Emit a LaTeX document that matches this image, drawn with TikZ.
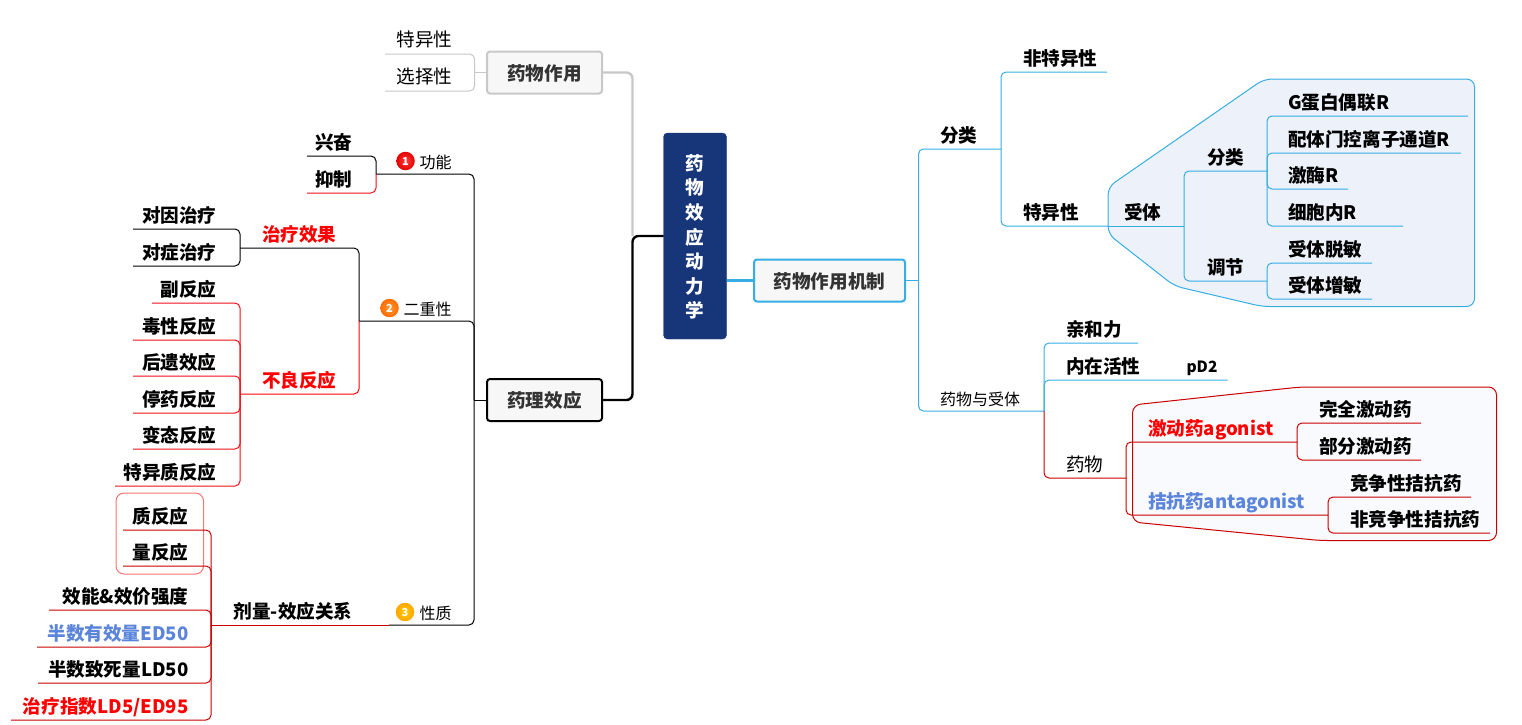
\documentclass[tikz,border=0pt]{standalone}
\usepackage{fontspec}
\setmainfont{Noto Sans CJK SC}
\definecolor{bl}{HTML}{36AEE4}
\definecolor{dr}{HTML}{C80000}
\definecolor{rd}{HTML}{F0101A}
\definecolor{tr}{HTML}{FF0000}
\definecolor{tb}{HTML}{5B85DB}
\definecolor{gy}{HTML}{C8C8C8}
\definecolor{navy}{HTML}{17367A}
\definecolor{tdk}{HTML}{333333}
\newcommand{\LT}[7]{% name, xl, xr, yline, text start, style, text
  \pgfmathsetlengthmacro\wdA{#3-#2}\pgfmathsetlengthmacro\padA{#5-#2}%
  \node[lab,#6,anchor=south west] (#1) at (#2,#4) {\makebox[\wdA][l]{\hspace{\padA}#7}};}
\newcommand{\RT}[7]{% name, xl, xr, yline, text end, style, text
  \pgfmathsetlengthmacro\wdA{#3-#2}\pgfmathsetlengthmacro\padA{#3-#5-0.5}%
  \node[lab,#6,anchor=south west] (#1) at (#2,#4) {\makebox[\wdA][r]{#7\hspace{\padA}}};}
\newcommand{\CL}[3]{\draw[cn,#1] (#2.south west) -- (#3.south east) -- (#3.south west);}
\newcommand{\CR}[3]{\draw[cn,#1] (#2.south east) -- (#3.south west) -- (#3.south east);}
\tikzset{
  lab/.style={inner xsep=0pt,inner ysep=2pt,outer sep=0pt,text height=14pt,text depth=4.5pt,
    font=\fontsize{18.6}{22}\selectfont\bfseries,text=black},
  small/.style={font=\fontsize{16}{20}\selectfont,text depth=4pt},
  plain/.style={font=\fontsize{18.6}{22}\selectfont},
  plainup/.style={plain,text depth=5.5pt},
  cn/.style={line width=1pt,rounded corners=5pt},
  main/.style={draw,line width=2pt,fill=black!3,rounded corners=3pt,inner sep=0pt,outer sep=0pt,
    minimum height=42pt,font=\fontsize{18.6}{22}\selectfont\bfseries,text=tdk,text height=18pt,text depth=3pt},
  thick conn/.style={line width=2.4pt,rounded corners=6pt},
  icon/.style={circle,minimum size=18.5pt,inner sep=0pt,text=white,font=\fontsize{11}{11}\selectfont\bfseries},
  bound/.style={line width=1pt,rounded corners=8pt}
}
\begin{document}
\begin{tikzpicture}[x=1pt,y=-1pt]
\useasboundingbox (0,0) rectangle (1522,724);
\fill[white] (0,0) rectangle (1522,724);
% boundaries
\draw[bound,draw=bl,fill={rgb,255:red,236;green,241;blue,250}]
  (1264,79) -- (1474.5,79) -- (1474.5,306.5) -- (1262,306.5) -- (1174.5,286) -- (1108,234) -- (1108,187) -- cycle;
\draw[bound,draw=dr,fill={rgb,255:red,249;green,250;blue,253}]
  (1300,387) -- (1496.5,387) -- (1496.5,540.5) -- (1320,540.5) -- (1132.5,522) -- (1132.5,405) -- cycle;
\draw[line width=1pt,draw=tr!55,rounded corners=8pt] (116,493) rectangle (203.5,574);
% main boxes
\node[fill=navy,draw=navy,rounded corners=4pt,inner sep=0pt,outer sep=0pt,minimum width=63pt,minimum height=206pt,
  align=center,text=white,font=\fontsize{18.6}{24.6}\selectfont\bfseries] (cen) at (695,236)
  {\rule{0pt}{18pt}药\\物\\效\\应\\动\\力\\学};
\node[main,draw=gy,minimum width=115pt] (zy) at (544.5,72.5) {药物作用};
\node[main,draw=black,minimum width=115pt] (yl) at (544.5,400) {药理效应};
\node[main,draw=bl,minimum width=151pt] (jz) at (829.5,280.5) {药物作用机制};
% hubs
\coordinate (hub) at (632.5,236);
\coordinate (tg) at (474.5,72.5);
\coordinate (tl) at (474,400);
\coordinate (tj) at (918.5,280.5);
% left gray
\RT{ty}{385}{474.5}{54}{452}{plainup}{特异性}
\RT{xz}{385}{474.5}{91}{452}{plainup}{选择性}
% pharmacological effect
\RT{gn}{376}{474}{174}{451}{small}{功能}
\RT{xf}{307}{376}{156}{352}{}{兴奋}
\RT{yz}{307}{376}{193}{352}{}{抑制}
\RT{ec}{359}{474}{321}{451}{small}{二重性}
\RT{zl}{240}{359}{248}{336}{text=tr}{治疗效果}
\RT{bl}{240}{359}{394}{336}{text=tr}{不良反应}
\RT{dy}{133}{240}{229}{216}{}{对因治疗}
\RT{dz}{133}{240}{266}{216}{}{对症治疗}
\RT{ff}{152}{240}{303}{216}{}{副反应}
\RT{dx}{133}{240}{340}{216}{}{毒性反应}
\RT{hy}{133}{240}{376}{216}{}{后遗效应}
\RT{ty2}{133}{240}{413}{216}{}{停药反应}
\RT{bt}{133}{240}{449}{216}{}{变态反应}
\RT{tz}{115}{240}{486}{216}{}{特异质反应}
\RT{xzh}{389}{474}{625}{451}{small}{性质}
\RT{jl}{211}{389}{625}{352}{}{剂量-效应关系}
\RT{zf}{123}{211}{530}{188}{}{质反应}
\RT{lf}{123}{211}{566}{188}{}{量反应}
\RT{xn}{49}{211}{610}{188}{}{效能\&效价强度}
\RT{ed}{37}{211}{647}{188}{text=tb}{半数有效量ED50}
\RT{ld}{38}{211}{683}{188}{}{半数致死量LD50}
\RT{zs}{11}{211}{720}{188}{text=tr}{治疗指数LD5/ED95}
% right
\LT{fl}{918.5}{1001}{149}{940}{}{分类}
\LT{fts}{1001}{1107}{72}{1023}{}{非特异性}
\LT{tx}{1001}{1108}{226}{1023}{}{特异性}
\LT{st}{1108}{1184}{226}{1124}{}{受体}
\LT{fl2}{1184}{1267}{171}{1207}{}{分类}
\LT{tj2}{1184}{1267}{281}{1207}{}{调节}
\LT{gd}{1267}{1468}{116}{1288}{}{G蛋白偶联R}
\LT{pt}{1267}{1461}{153}{1288}{}{配体门控离子通道R}
\LT{jm}{1267}{1348}{189}{1288}{}{激酶R}
\LT{xb}{1267}{1403}{226}{1288}{}{细胞内R}
\LT{tm}{1267}{1372}{263}{1288}{}{受体脱敏}
\LT{zm}{1267}{1372}{299}{1288}{}{受体增敏}
\LT{ys}{918.5}{1044}{411}{940}{small}{药物与受体}
\LT{qh}{1044}{1138}{343}{1066}{}{亲和力}
\LT{nz}{1044}{1227.5}{380}{1066}{}{内在活性}
\node[inner sep=0pt,font=\fontsize{15.5}{18}\selectfont\bfseries] (pd) at (1202,368) {pD2};
\LT{yw}{1044}{1126}{478}{1066}{plain}{药物}
\LT{jd}{1126}{1297}{442}{1148}{text=tr}{激动药agonist}
\LT{jk}{1126}{1328}{515}{1148}{text=tb}{拮抗药antagonist}
\LT{wq}{1297}{1421}{423}{1319}{}{完全激动药}
\LT{bf}{1297}{1421}{460}{1319}{}{部分激动药}
\LT{jz2}{1328}{1471}{497}{1350}{}{竞争性拮抗药}
\LT{fj}{1328}{1490}{533}{1350}{}{非竞争性拮抗药}
% icons
\node[icon,inner color=red!75!white,outer color=red!90!black] (i1) at (405.5,161) {1};
\node[icon,inner color=orange!80!white,outer color=orange!85!red] (i2) at (389.5,308) {2};
\node[icon,inner color=yellow!60!orange,outer color=orange!70!yellow] (i3) at (405,612) {3};
% thick connectors
\draw[thick conn,draw=gy] (zy.east) -| (hub);
\draw[thick conn,draw=black] (yl.east) -| (hub) [sharp corners] -- (cen.west);
\draw[line width=2.4pt,draw=bl] (cen.east |- jz.west) -- (jz.west);
% gray branch
\draw[line width=1pt,draw=gy] (zy.west) -- (tg);
\draw[cn,draw=gy] (tg) -- (ty.south east) -- (ty.south west);
\draw[cn,draw=gy] (tg) -- (xz.south east) -- (xz.south west);
% black branch
\draw[line width=1pt] (yl.west) -- (tl);
\draw[cn] (tl) -- (gn.south east) -- (gn.south west);
\draw[cn] (tl) -- (ec.south east) -- (ec.south west);
\draw[cn] (tl) -- (xzh.south east) -- (xzh.south west);
\CL{black}{gn}{xf}
\CL{rd}{gn}{yz}
\CL{black}{ec}{zl}
\CL{tr}{ec}{bl}
\CL{black}{zl}{dy}
\CL{black}{zl}{dz}
\CL{rd}{bl}{ff}
\CL{rd}{bl}{dx}
\CL{rd}{bl}{hy}
\CL{rd}{bl}{ty2}
\CL{rd}{bl}{bt}
\CL{rd}{bl}{tz}
\draw[line width=1pt,draw=dr] (xzh.south west) -- (jl.south west);
\CL{dr}{jl}{zf}
\CL{dr}{jl}{lf}
\CL{dr}{jl}{xn}
\CL{dr}{jl}{ed}
\CL{dr}{jl}{ld}
\CL{dr}{jl}{zs}
% blue branch
\draw[line width=1pt,draw=bl] (jz.east) -- (tj);
\draw[cn,draw=bl] (tj) -- (fl.south west) -- (fl.south east);
\draw[cn,draw=bl] (tj) -- (ys.south west) -- (ys.south east);
\CR{bl}{fl}{fts}
\CR{bl}{fl}{tx}
\draw[line width=1pt,draw=bl] (tx.south east) -- (st.south east);
\CR{bl}{st}{fl2}
\CR{bl}{st}{tj2}
\CR{bl}{fl2}{gd}
\CR{bl}{fl2}{pt}
\CR{bl}{fl2}{jm}
\CR{bl}{fl2}{xb}
\CR{bl}{tj2}{tm}
\CR{bl}{tj2}{zm}
\CR{bl}{ys}{qh}
\CR{bl}{ys}{nz}
\CR{dr}{ys}{yw}
\CR{dr}{yw}{jd}
\CR{dr}{yw}{jk}
\CR{dr}{jd}{wq}
\CR{dr}{jd}{bf}
\CR{dr}{jk}{jz2}
\CR{dr}{jk}{fj}
\end{tikzpicture}
\end{document}
